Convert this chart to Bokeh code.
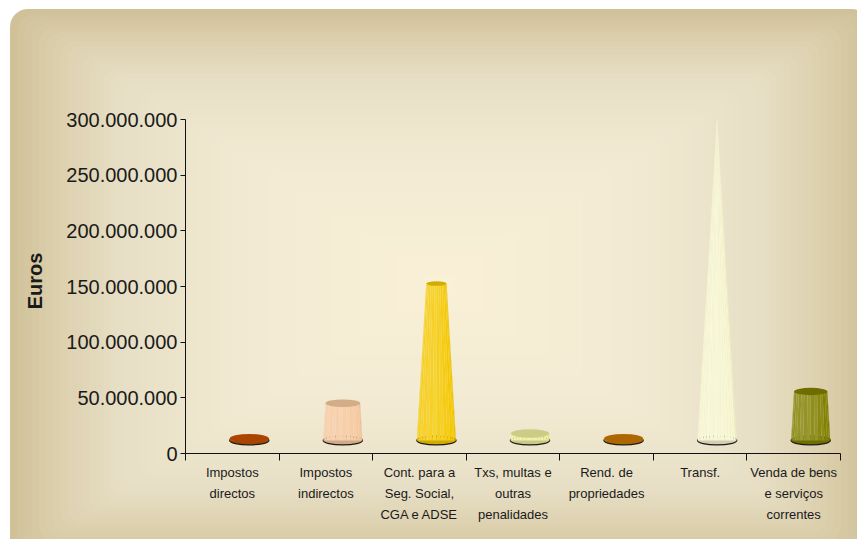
import math
from urllib.parse import quote
from bokeh.plotting import figure
from bokeh.models import Range1d, FixedTicker, ColumnDataSource
from bokeh.embed import file_html
from bokeh.resources import INLINE

# ---------------- data ----------------
categories = [
    "Impostos\ndirectos",
    "Impostos\nindirectos",
    "Cont. para a\nSeg. Social,\nCGA e ADSE",
    "Txs, multas e\noutras\npenalidades",
    "Rend. de\npropriedades",
    "Transf.",
    "Venda de bens\ne serviços\ncorrentes",
]
values = [2.0e6, 33.5e6, 141e6, 6.3e6, 2.0e6, 292e6, 44e6]
colors = ["#C65000", "#F5C89E", "#F4C800", "#EDED9C", "#CA7800", "#F6F6D0", "#808000"]
y_ticks = [0, 50e6, 100e6, 150e6, 200e6, 250e6, 300e6]
y_tick_labels = ["0", "50.000.000", "100.000.000", "150.000.000",
                 "200.000.000", "250.000.000", "300.000.000"]
y_title = "Euros"

# ---------------- layout ----------------
W, H = 857, 539
LEFT, RIGHT, TOP, BOTTOM = 185, 17, 108, 86
Y_END = 310e6
N = len(categories)
frame_w = W - LEFT - RIGHT
frame_h = H - TOP - BOTTOM
px_cat = frame_w / N
px_y = frame_h / Y_END
DEPTH_X, DEPTH_Y = 17, 13          # 3-D depth offset, pixels
HALF_W = 0.21                      # base half width, in categories
ELL = 0.22                         # ellipse aspect (height / width)
NSTRIP = 16

FONT = "Liberation Sans"

p = figure(width=W, height=H, x_range=Range1d(0, N), y_range=Range1d(0, Y_END),
           output_backend="svg", toolbar_location=None,
           min_border_left=LEFT, min_border_right=RIGHT,
           min_border_top=TOP, min_border_bottom=BOTTOM)
p.border_fill_color = None
p.background_fill_color = None
p.outline_line_color = None
p.xgrid.visible = False
p.ygrid.visible = False


def mix(c1, c2, t):
    a = [int(c1[i:i + 2], 16) for i in (1, 3, 5)]
    b = [int(c2[i:i + 2], 16) for i in (1, 3, 5)]
    return "#%02x%02x%02x" % tuple(round(x + (y - x) * t) for x, y in zip(a, b))


# background: rounded panel with a rectangular "from centre" gradient
profile = [(0.0, "#D0C199"), (0.08, "#DACDA9"), (0.25, "#E7DFC5"),
           (0.55, "#F2EAD2"), (1.0, "#FAF0D8")]


def prof(t):
    for (t0, c0), (t1, c1) in zip(profile, profile[1:]):
        if t <= t1:
            return mix(c0, c1, (t - t0) / (t1 - t0))
    return profile[-1][1]


PX0, PY0, PX1, PY1 = 10, 9, 870, 560
cxm, cym = (PX0 + PX1) / 2, (PY0 + PY1) / 2
hw, hh = (PX1 - PX0) / 2, (PY1 - PY0) / 2
rects = []
S = 60
for s in range(S):
    t = s / S
    rx = max(0.0, 18 * (1 - t))
    rects.append("<rect x='%.1f' y='%.1f' width='%.1f' height='%.1f' rx='%.1f' fill='%s'/>"
                 % (cxm - hw * (1 - t), cym - hh * (1 - t), 2 * hw * (1 - t),
                    2 * hh * (1 - t), rx, prof(t)))
svg = ("<svg xmlns='http://www.w3.org/2000/svg' width='%d' height='%d'>" % (W, H)
       + "".join(rects) + "</svg>")
p.styles = {"background-image": 'url("data:image/svg+xml,' + quote(svg) + '")',
            "background-repeat": "no-repeat"}

# depth-shifted ranges for the 3-D shapes
dx = DEPTH_X / px_cat
dy = DEPTH_Y / px_y
p.extra_x_ranges = {"d": Range1d(-dx, N - dx)}
p.extra_y_ranges = {"d": Range1d(-dy, Y_END - dy)}


def shade(hexc, f):
    r, g, b = (int(hexc[i:i + 2], 16) for i in (1, 3, 5))
    if f >= 1:
        t = min(1.0, (f - 1) * 1.6)
        r, g, b = (c + (255 - c) * t for c in (r, g, b))
    else:
        r, g, b = (c * f for c in (r, g, b))
    return "#%02x%02x%02x" % tuple(int(max(0, min(255, round(c)))) for c in (r, g, b))


apex = max(values)
xs, ys, fc = [], [], []
base = dict(x=[], w=[], h=[], c=[])
top = dict(x=[], y=[], w=[], h=[], c=[])
for i, (v, col) in enumerate(zip(values, colors)):
    c = i + 0.5
    w0 = HALF_W
    wt = w0 * (1 - v / apex)
    for k in range(NSTRIP):
        t1 = math.pi - math.pi * k / NSTRIP
        t2 = math.pi - math.pi * (k + 1) / NSTRIP
        a, b = math.cos(t1), math.cos(t2)
        tm = (t1 + t2) / 2
        f = 1.0 + 0.11 * math.cos(tm - 2.1) + (0.02 if k % 2 else -0.015)
        xs.append([c + w0 * a, c + w0 * b, c + wt * b, c + wt * a])
        ys.append([0, 0, v, v])
        fc.append(shade(col, f))
    base["x"].append(c); base["w"].append(2 * w0)
    base["h"].append(ELL * 2 * w0 * px_cat); base["c"].append(shade(col, 0.85))
    top["x"].append(c); top["y"].append(v); top["w"].append(2 * wt)
    top["h"].append(ELL * 2 * wt * px_cat); top["c"].append(shade(col, 0.86))

p.ellipse(x="x", y=0, width="w", height="h", height_units="screen",
          fill_color="c", line_color="#1a1a1a", line_width=1.2,
          source=ColumnDataSource(base), x_range_name="d", y_range_name="d")
p.patches(xs, ys, fill_color=fc, line_color=None, x_range_name="d", y_range_name="d")
p.ellipse(x="x", y="y", width="w", height="h", height_units="screen",
          fill_color="c", line_color=None,
          source=ColumnDataSource(top), x_range_name="d", y_range_name="d")

# y axis
ya = p.yaxis[0]
ya.ticker = FixedTicker(ticks=y_ticks, minor_ticks=[])
ya.major_label_overrides = {t: s for t, s in zip(y_ticks, y_tick_labels)}
ya.bounds = (0, 300e6)
ya.axis_line_color = "#111111"
ya.major_tick_line_color = "#111111"
ya.major_tick_in = 0
ya.major_tick_out = 5
ya.major_label_standoff = 3
ya.major_label_text_font = FONT
ya.major_label_text_font_size = "20px"
ya.major_label_text_color = "#1a1a1a"
ya.axis_label = y_title
ya.axis_label_text_font = FONT
ya.axis_label_text_font_style = "bold"
ya.axis_label_text_font_size = "20px"
ya.axis_label_text_color = "#1a1a1a"
ya.axis_label_standoff = 17

# x axis: labels at centres, minor ticks at category boundaries
xa = p.xaxis[0]
centres = [i + 0.5 for i in range(N)]
xa.ticker = FixedTicker(ticks=centres, minor_ticks=list(range(N + 1)))
xa.major_label_overrides = {t: s for t, s in zip(centres, categories)}
xa.axis_line_color = "#111111"
xa.major_tick_line_color = None
xa.major_tick_in = 0
xa.major_tick_out = 0
xa.minor_tick_line_color = "#111111"
xa.minor_tick_in = 0
xa.minor_tick_out = 7
xa.major_label_standoff = 4
xa.major_label_text_font = FONT
xa.major_label_text_font_size = "13px"
xa.major_label_text_color = "#1a1a1a"
xa.major_label_text_line_height = 1.4

open("out.html", "w").write(file_html(p, INLINE))
